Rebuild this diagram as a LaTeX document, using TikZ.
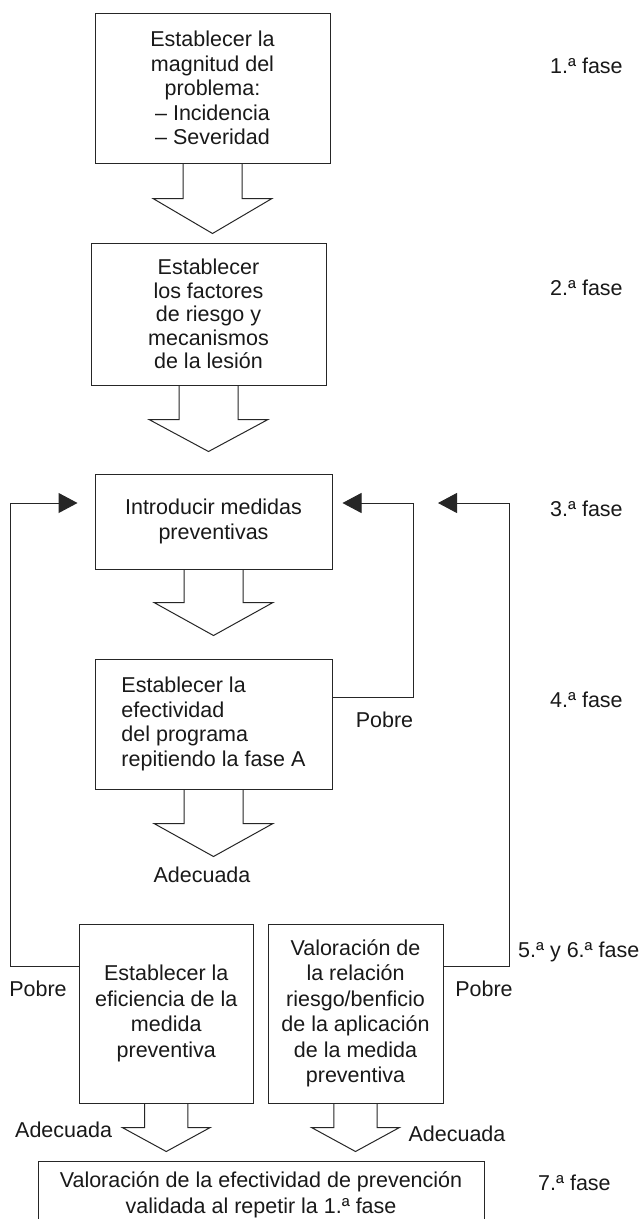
\documentclass[tikz,border=0pt]{standalone}
\usepackage{fontspec}
\setmainfont{Liberation Sans}
\usetikzlibrary{arrows.meta,calc}
\newcommand\fs{\fontsize{21.5}{24.5}\selectfont}
% block arrow hanging under a node anchor: #1 anchor, #2 stem half width, #3 wing half width, #4 stem length, #5 head length
\newcommand\mybarrow[5]{%
  \draw[blk] ([xshift=-#2pt]#1) -- ++(0,#4) -- ++({#2-#3},0) -- ++(#3,#5) -- ++(#3,-#5) -- ++({#2-#3},0) -- ++(0,-#4);}
\begin{document}
\begin{tikzpicture}[x=1pt,y=-1pt,
  box/.style={draw=black!85,line width=1pt,inner sep=0pt,align=center,font=\fs,text=black!90},
  blk/.style={draw=black!85,line width=1pt,line join=miter},
  fb/.style={draw=black!85,line width=1pt,-{Triangle[length=19pt,width=20pt]}},
  lbl/.style={inner sep=0pt,font=\fs,text=black!90,text height=15.5pt,text depth=0pt}]
\useasboundingbox (0,0) rectangle (641,1219);
\clip (0,0) rectangle (641,1219);
\fill[white] (0,0) rectangle (641,1219);

% boxes
\node[box,minimum width=235pt,minimum height=150pt] (b1) at (212.5,88)
  {Establecer la\\magnitud del\\problema:\\– Incidencia\\– Severidad};
\node[box,minimum width=235pt,minimum height=142pt,font=\fontsize{21.5}{23.5}\selectfont] (b2) at (208.5,314)
  {Establecer\\los factores\\de riesgo y\\mecanismos\\de la lesión};
\node[box,minimum width=237pt,minimum height=95pt] (b3) at (213.5,521.5)
  {Introducir medidas\\preventivas};
\node[box,minimum width=237pt,minimum height=130pt,align=left] (b4) at (213.5,724)
  {Establecer la\\efectividad\\del programa\\repitiendo la fase A};
\node[box,minimum width=174.5pt,minimum height=179pt,font=\fontsize{21.5}{25.5}\selectfont] (b5) at (166.25,1013.5)
  {Establecer la\\eficiencia de la\\medida\\preventiva};
\node[box,minimum width=175pt,minimum height=179pt,font=\fontsize{21.5}{25.5}\selectfont] (b6) at (355.5,1013.5)
  {Valoración de\\la relación\\riesgo/benficio\\de la aplicación\\de la medida\\preventiva};
\node[box,minimum width=446pt,minimum height=68pt,font=\fontsize{21.5}{26}\selectfont] (b7) at (261,1195)
  {Valoración de la efectividad de prevención\\validada al repetir la 1.ª fase};

% block arrows
\mybarrow{b1.south}{29.5}{59.5}{35}{35}
\mybarrow{b2.south}{29.5}{59.5}{34}{32}
\mybarrow{b3.south}{29.5}{59.5}{33}{33}
\mybarrow{b4.south}{29.5}{59.5}{34}{33}
\mybarrow{b5.south}{21.7}{44}{24}{24}
\mybarrow{b6.south}{21.7}{44}{24}{24}

% feedback loops
\coordinate (yA) at (0,503);
\coordinate (yB) at (0,697);
\coordinate (yC) at (0,966);
\coordinate (tipL) at ([xshift=-17pt]b3.west |- yA);
\coordinate (tipM) at ([xshift=10pt]b3.east |- yA);
\coordinate (tipR) at ([xshift=105.5pt]b3.east |- yA);
\draw[fb] (b5.west |- yC) -| (10,503) -- (tipL);
\draw[fb] (b4.east |- yB) -| (413,503) -- (tipM);
\draw[fb] (b6.east |- yC) -| (509,503) -- (tipR);

% labels
\node[lbl] (pobre4) at (384.5,720) {Pobre};
\node[lbl] (adec4) at (202,875) {Adecuada};
\node[lbl] (pobreL) at (38,989) {Pobre};
\node[lbl] (pobreR) at (484,989) {Pobre};
\node[lbl] (adecL) at (63.6,1130) {Adecuada};
\node[lbl] (adecR) at (457,1134) {Adecuada};

% phase labels
\node[lbl,anchor=west] (f1) at (550,66) {1.ª fase};
\node[lbl,anchor=west] (f2) at (550,288) {2.ª fase};
\node[lbl,anchor=west] (f3) at (550,509) {3.ª fase};
\node[lbl,anchor=west] (f4) at (550,700) {4.ª fase};
\node[lbl,anchor=west] (f56) at (518,950) {5.ª y 6.ª fase};
\node[lbl,anchor=west] (f7) at (538,1183) {7.ª fase};
\end{tikzpicture}
\end{document}
